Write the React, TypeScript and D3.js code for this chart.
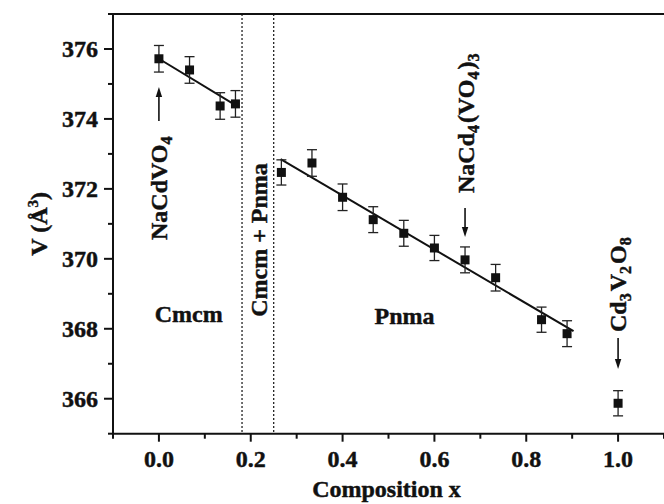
import React from "react";
import * as d3 from "d3";

const compX = [0, 0.0667, 0.1333, 0.1667, 0.2667, 0.3333, 0.4, 0.4667, 0.5333, 0.6, 0.6667, 0.7333, 0.8333, 0.8889, 1.0];
const volume = [375.72, 375.4, 374.37, 374.43, 372.47, 372.74, 371.76, 371.12, 370.73, 370.31, 369.97, 369.46, 368.26, 367.86, 365.87];
const volErr = [0.38, 0.38, 0.38, 0.38, 0.36, 0.38, 0.38, 0.37, 0.37, 0.36, 0.37, 0.38, 0.36, 0.37, 0.36];

const cmcmFitX = [0, 0.172];
const cmcmFitV = [375.72, 374.35];
const pnmaFitX = [0.265, 0.903];
const pnmaFitV = [372.85, 367.93];

const phaseBounds = [0.181, 0.25];

const xMajorTicks = [0, 0.2, 0.4, 0.6, 0.8, 1.0];
const xMinorTicks = [-0.1, 0.1, 0.3, 0.5, 0.7, 0.9, 1.1];
const yMajorTicks = [366, 368, 370, 372, 374, 376];
const yMinorTicks = [365, 367, 369, 371, 373, 375, 377];

const FONT = "'Liberation Serif', 'Times New Roman', Times, serif";

export default function App() {
  const W = 664, H = 504;
  const L = 113, R = 664, T = 14, B = 433.7;
  const x = d3.scaleLinear().domain([-0.1, 1.1]).range([L, R]);
  const y = d3.scaleLinear().domain([365, 377]).range([B, T]);
  const line = d3.line<[number, number]>().x(d => x(d[0])).y(d => y(d[1]));
  const fs = 24;
  const txt = { fontFamily: FONT, fontWeight: "bold", fontSize: fs, fill: "#111", stroke: "#111", strokeWidth: 0.45 } as any;
  const sub = (s: string) => (
    <>
      <tspan dy={5} fontSize={16}>{s}</tspan>
      <tspan dy={-5}>{"\u200A"}</tspan>
    </>
  );
  const arrowHead = (cx: number, tipY: number, dir: number) => {
    const len = 10, hw = 3.2;
    return `M${cx},${tipY} L${cx - hw},${tipY - dir * len} L${cx + hw},${tipY - dir * len} Z`;
  };
  const a0 = x(0), a1 = x(0.6667), a2 = x(1.0);
  return (
    <svg width={W} height={H} style={{ position: "absolute", left: 0, top: 0, background: "#fff" }}>
      <rect x={0} y={0} width={W} height={H} fill="#fff" />
      {phaseBounds.map((b, i) => (
        <line key={"pb" + i} x1={x(b)} x2={x(b)} y1={T} y2={B} stroke="#111" strokeWidth={1.2} strokeDasharray="2,2" />
      ))}
      <line x1={L} x2={R} y1={T} y2={T} stroke="#111" strokeWidth={2} />
      <line x1={L} x2={L} y1={T} y2={B + 1} stroke="#111" strokeWidth={2} />
      <line x1={L - 1} x2={R} y1={B} y2={B} stroke="#111" strokeWidth={2} />
      {xMajorTicks.map((t, i) => (
        <g key={"xt" + i}>
          <line x1={x(t)} x2={x(t)} y1={B} y2={B + 8} stroke="#111" strokeWidth={2} />
          <text x={x(t)} y={467} textAnchor="middle" style={txt}>{d3.format(".1f")(t)}</text>
        </g>
      ))}
      {xMinorTicks.map((t, i) => (
        <line key={"xm" + i} x1={x(t)} x2={x(t)} y1={B} y2={B + 5} stroke="#111" strokeWidth={2} />
      ))}
      {yMajorTicks.map((t, i) => (
        <g key={"yt" + i}>
          <line x1={L - 9} x2={L} y1={y(t)} y2={y(t)} stroke="#111" strokeWidth={2} />
          <text x={98} y={y(t) + 8} textAnchor="end" style={txt}>{t}</text>
        </g>
      ))}
      {yMinorTicks.map((t, i) => (
        <line key={"ym" + i} x1={L - 5} x2={L} y1={y(t)} y2={y(t)} stroke="#111" strokeWidth={2} />
      ))}
      <path d={line(cmcmFitX.map((v, i) => [v, cmcmFitV[i]]) as any) || ""} stroke="#111" strokeWidth={2} fill="none" />
      <path d={line(pnmaFitX.map((v, i) => [v, pnmaFitV[i]]) as any) || ""} stroke="#111" strokeWidth={2} fill="none" />
      {compX.map((cx, i) => {
        const px = x(cx), py = y(volume[i]);
        const yt = y(volume[i] + volErr[i]), yb = y(volume[i] - volErr[i]);
        return (
          <g key={"p" + i}>
            <line x1={px} x2={px} y1={yt} y2={yb} stroke="#222" strokeWidth={1.3} />
            <line x1={px - 5} x2={px + 5} y1={yt} y2={yt} stroke="#222" strokeWidth={1.3} />
            <line x1={px - 5} x2={px + 5} y1={yb} y2={yb} stroke="#222" strokeWidth={1.3} />
            <rect x={px - 4.5} y={py - 4.5} width={9} height={9} fill="#111" />
          </g>
        );
      })}
      <text x={x(0.065)} y={322} textAnchor="middle" style={txt}>Cmcm</text>
      <text x={x(0.535)} y={323.5} textAnchor="middle" style={txt}>Pnma</text>
      <text transform={`translate(267,240) rotate(-90)`} textAnchor="middle" style={txt}>Cmcm + Pnma</text>
      <text transform={`translate(${a0 + 8},240) rotate(-90)`} style={txt}>NaCdVO{sub("4")}</text>
      <line x1={a0} x2={a0} y1={121} y2={95} stroke="#111" strokeWidth={1.6} />
      <path d={arrowHead(a0, 87, -1)} fill="#111" />
      <text transform={`translate(${a1 + 9},193) rotate(-90)`} style={txt}>NaCd{sub("4")}(VO{sub("4")}){sub("3")}</text>
      <line x1={a1} x2={a1} y1={208} y2={229} stroke="#111" strokeWidth={1.6} />
      <path d={arrowHead(a1, 237, 1)} fill="#111" />
      <text transform={`translate(${a2 + 8},332) rotate(-90)`} style={txt}>Cd{sub("3")}V{sub("2")}O{sub("8")}</text>
      <line x1={a2} x2={a2} y1={338} y2={361} stroke="#111" strokeWidth={1.6} />
      <path d={arrowHead(a2, 369, 1)} fill="#111" />
      <text x={(L + R) / 2 - 2} y={497} textAnchor="middle" style={txt}>Composition x</text>
      <text transform={`translate(47,${(T + B) / 2}) rotate(-90)`} textAnchor="middle" style={txt}>
        V (Å<tspan dy={-9} fontSize={15}>3</tspan><tspan dy={9}>)</tspan>
      </text>
    </svg>
  );
}
